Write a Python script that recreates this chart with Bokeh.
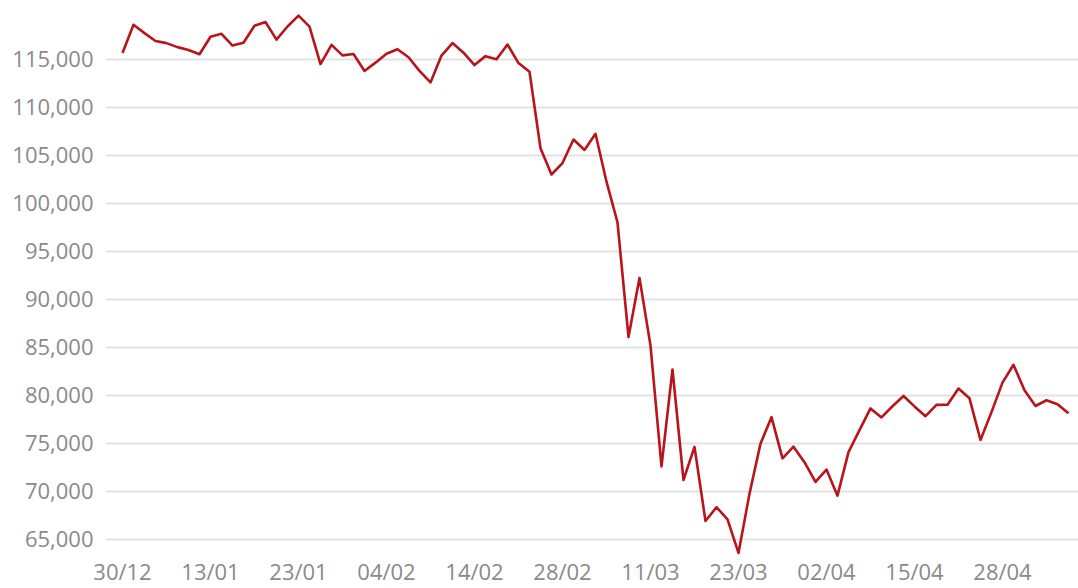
from bokeh.plotting import figure
from bokeh.models import Range1d, FixedTicker, NumeralTickFormatter, ColumnDataSource
from bokeh.embed import file_html
from bokeh.resources import INLINE

# Trading days (dd/mm), 30/12/2019 .. 07/05/2020
dates = [
    "30/12", "02/01", "03/01", "06/01", "07/01", "08/01", "09/01", "10/01",
    "13/01", "14/01", "15/01", "16/01", "17/01", "20/01", "21/01", "22/01",
    "23/01", "24/01", "27/01", "28/01", "29/01", "30/01", "31/01", "03/02",
    "04/02", "05/02", "06/02", "07/02", "10/02", "11/02", "12/02", "13/02",
    "14/02", "17/02", "18/02", "19/02", "20/02", "21/02", "26/02", "27/02",
    "28/02", "02/03", "03/03", "04/03", "05/03", "06/03", "09/03", "10/03",
    "11/03", "12/03", "13/03", "16/03", "17/03", "18/03", "19/03", "20/03",
    "23/03", "24/03", "25/03", "26/03", "27/03", "30/03", "31/03", "01/04",
    "02/04", "03/04", "06/04", "07/04", "08/04", "09/04", "13/04", "14/04",
    "15/04", "16/04", "17/04", "20/04", "22/04", "23/04", "24/04", "27/04",
    "28/04", "29/04", "30/04", "04/05", "05/05", "06/05", "07/05",
]

values = [
    115645, 118573, 117707, 116878, 116662, 116247, 115947, 115503,
    117325, 117632, 116414, 116704, 118478, 118862, 117026, 118391,
    119527, 118376, 114482, 116479, 115385, 115528, 113761, 114629,
    115557, 116028, 115190, 113770, 112570, 115371, 116674, 115662,
    114381, 115309, 114977, 116518, 114586, 113681, 105718, 102984,
    104172, 106625, 105537, 107224, 102233, 97997, 86067, 92214,
    85171, 72583, 82678, 71168, 74617, 66895, 68332, 67069,
    63570, 69729, 74955, 77710, 73429, 74640, 73020, 70967,
    72253, 69538, 74073, 76358, 78625, 77682, 78850, 79918,
    78831, 77812, 78990, 79011, 80687, 79673, 75331, 78238,
    81312, 83170, 80506, 78876, 79471, 79064, 78119,
]

tick_every = 8
y_ticks = [65000, 70000, 75000, 80000, 85000, 90000, 95000, 100000, 105000, 110000, 115000]

idx = list(range(len(values)))
src = ColumnDataSource(data=dict(x=idx, y=values))

p = figure(
    width=1078, height=588,
    output_backend="svg", toolbar_location=None,
    x_range=Range1d(-1.545, 86.91),
    y_range=Range1d(63306, 121102),
    min_border_left=105, min_border_right=0, min_border_top=0, min_border_bottom=32,
)
p.outline_line_color = None
p.background_fill_color = "white"
p.border_fill_color = "white"

p.line("x", "y", source=src, line_color="#b8141c", line_width=2.6, line_join="round")

tick_pos = list(range(0, len(dates), tick_every))
p.xaxis.ticker = FixedTicker(ticks=tick_pos)
p.xaxis.major_label_overrides = {i: dates[i] for i in tick_pos}
p.yaxis.ticker = FixedTicker(ticks=y_ticks)
p.yaxis.formatter = NumeralTickFormatter(format="0,0")

for ax in (p.xaxis[0], p.yaxis[0]):
    ax.axis_line_color = None
    ax.major_tick_line_color = None
    ax.minor_tick_line_color = None
    ax.major_label_text_font = "Open Sans"
    ax.major_label_text_font_size = "22px"
    ax.major_label_text_color = "#8a8a8a"
p.yaxis.major_label_standoff = 6
p.xaxis.major_label_standoff = -6

p.xgrid.grid_line_color = None
p.ygrid.grid_line_color = "#e2e2e2"
p.ygrid.grid_line_width = 2

open("out.html", "w").write(file_html(p, INLINE))
